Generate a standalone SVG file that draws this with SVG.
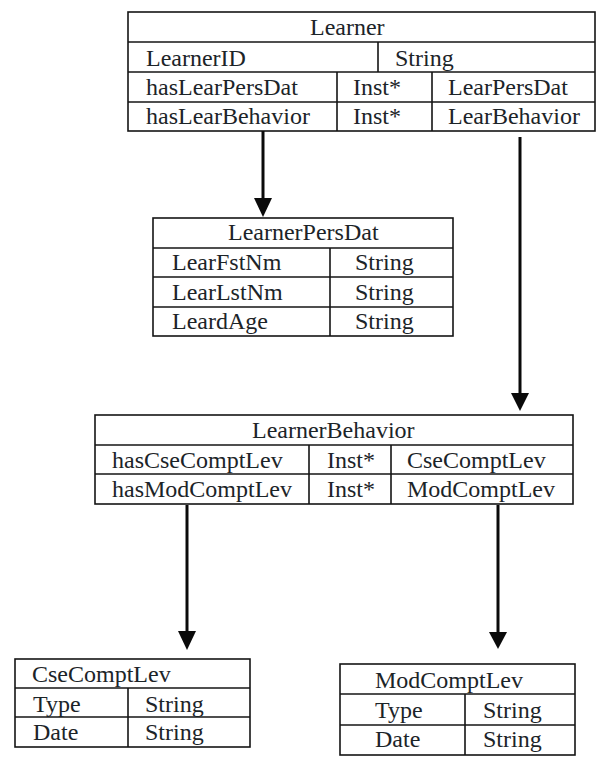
<svg xmlns="http://www.w3.org/2000/svg" width="597" height="757" viewBox="0 0 597 757">
<style>
.b{fill:none;stroke:#141414;stroke-width:1.6}
.l{stroke:#141414;stroke-width:1.6}
text{font-family:"Liberation Serif","Times New Roman",serif;font-size:24px;fill:#1c2428}
.c{stroke:#0a0a0a;stroke-width:3;fill:none}
.h{fill:#0a0a0a}
</style>
<rect width="597" height="757" fill="#ffffff"/>
<g id="Learner">
<rect class="b" x="128" y="12" width="467" height="119"/>
<line class="l" x1="128" y1="42" x2="595" y2="42"/>
<line class="l" x1="128" y1="72" x2="595" y2="72"/>
<line class="l" x1="128" y1="102" x2="595" y2="102"/>
<line class="l" x1="378" y1="42" x2="378" y2="72"/>
<line class="l" x1="337" y1="72" x2="337" y2="131"/>
<line class="l" x1="432" y1="72" x2="432" y2="131"/>
<text x="310" y="35">Learner</text>
<text x="146" y="66">LearnerID</text>
<text x="395" y="66">String</text>
<text x="146" y="95">hasLearPersDat</text>
<text x="353" y="95">Inst*</text>
<text x="448" y="95">LearPersDat</text>
<text x="146" y="124">hasLearBehavior</text>
<text x="353" y="124">Inst*</text>
<text x="448" y="124">LearBehavior</text>
</g>
<g id="LearnerPersDat">
<rect class="b" x="153" y="218" width="300" height="118"/>
<line class="l" x1="153" y1="248" x2="453" y2="248"/>
<line class="l" x1="153" y1="277" x2="453" y2="277"/>
<line class="l" x1="153" y1="307" x2="453" y2="307"/>
<line class="l" x1="330" y1="248" x2="330" y2="336"/>
<text x="228" y="240">LearnerPersDat</text>
<text x="172" y="270">LearFstNm</text>
<text x="355" y="270">String</text>
<text x="172" y="300">LearLstNm</text>
<text x="355" y="300">String</text>
<text x="172" y="329">LeardAge</text>
<text x="355" y="329">String</text>
</g>
<g id="LearnerBehavior">
<rect class="b" x="95" y="415" width="478" height="89"/>
<line class="l" x1="95" y1="445" x2="573" y2="445"/>
<line class="l" x1="95" y1="474" x2="573" y2="474"/>
<line class="l" x1="309" y1="445" x2="309" y2="504"/>
<line class="l" x1="391" y1="445" x2="391" y2="504"/>
<text x="252" y="438">LearnerBehavior</text>
<text x="112" y="468">hasCseComptLev</text>
<text x="327" y="468">Inst*</text>
<text x="407" y="468">CseComptLev</text>
<text x="112" y="497">hasModComptLev</text>
<text x="327" y="497">Inst*</text>
<text x="407" y="497">ModComptLev</text>
</g>
<g id="CseComptLev">
<rect class="b" x="15" y="659" width="235" height="88"/>
<line class="l" x1="15" y1="688" x2="250" y2="688"/>
<line class="l" x1="15" y1="717" x2="250" y2="717"/>
<line class="l" x1="128" y1="688" x2="128" y2="747"/>
<text x="32" y="682">CseComptLev</text>
<text x="33" y="712">Type</text>
<text x="145" y="712">String</text>
<text x="33" y="740">Date</text>
<text x="145" y="740">String</text>
</g>
<g id="ModComptLev">
<rect class="b" x="340" y="664" width="235" height="91"/>
<line class="l" x1="340" y1="694" x2="575" y2="694"/>
<line class="l" x1="340" y1="725" x2="575" y2="725"/>
<line class="l" x1="465" y1="694" x2="465" y2="755"/>
<text x="375" y="688">ModComptLev</text>
<text x="375" y="718">Type</text>
<text x="483" y="718">String</text>
<text x="375" y="747">Date</text>
<text x="483" y="747">String</text>
</g>
<g id="connectors">
<line class="c" x1="263" y1="131" x2="263" y2="200"/>
<polygon class="h" points="254,198 272,198 263,217"/>
<line class="c" x1="520" y1="137" x2="520" y2="395"/>
<polygon class="h" points="511,393 529,393 520,411"/>
<line class="c" x1="187" y1="505" x2="187" y2="633"/>
<polygon class="h" points="178,631 196,631 187,650"/>
<line class="c" x1="498" y1="505" x2="498" y2="634"/>
<polygon class="h" points="489,632 507,632 498,649"/>
</g>
</svg>
